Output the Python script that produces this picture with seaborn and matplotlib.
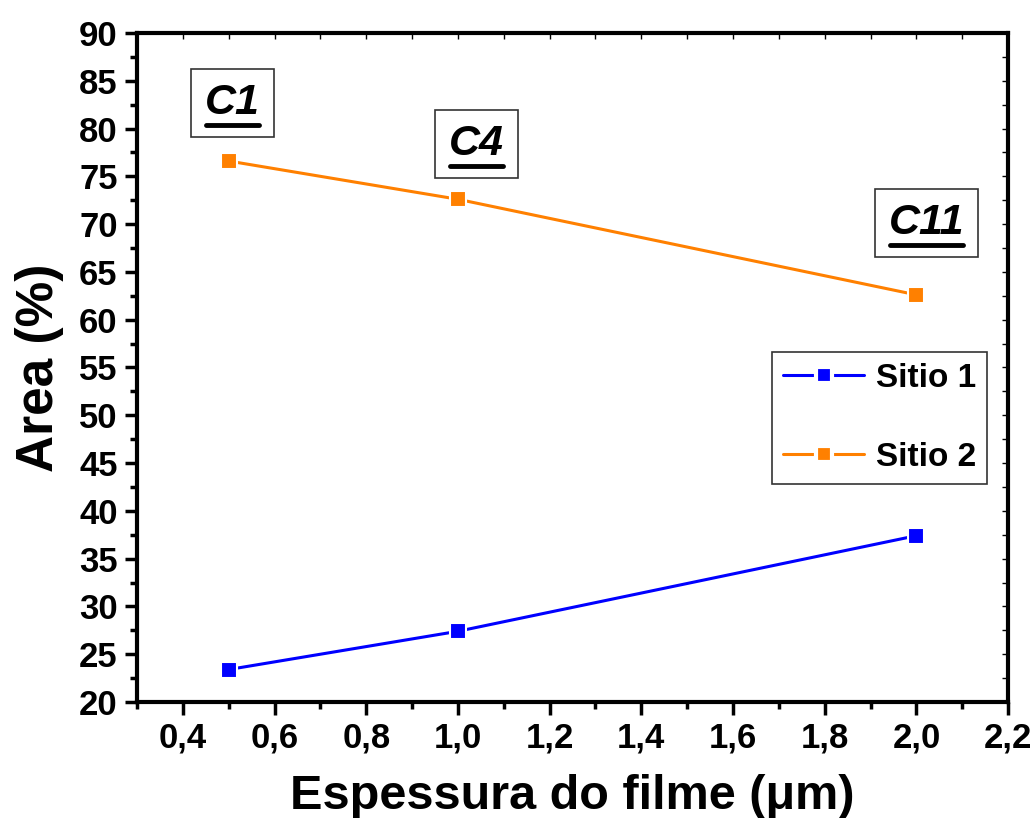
import pandas as pd
import seaborn as sns
import matplotlib.pyplot as plt
from matplotlib.ticker import MultipleLocator, FuncFormatter
from matplotlib.lines import Line2D

# dados
espessura = [0.5, 1.0, 2.0]
sitio1 = [23.4, 27.4, 37.4]
sitio2 = [76.6, 72.6, 62.6]
amostras = ['C1', 'C4', 'C11']
amostra_pos = [(0.508, 82.7), (1.04, 78.4), (2.022, 70.1)]

df = pd.DataFrame({
    'Espessura': espessura * 2,
    'Area': sitio1 + sitio2,
    'Serie': ['Sitio 1'] * 3 + ['Sitio 2'] * 3,
})

sns.set_theme(style="ticks")
plt.rcParams['font.family'] = ['Liberation Sans', 'DejaVu Sans']
plt.rcParams['font.weight'] = 'bold'
plt.rcParams['text.color'] = 'black'
plt.rcParams['axes.labelcolor'] = 'black'
plt.rcParams['xtick.color'] = 'black'
plt.rcParams['ytick.color'] = 'black'

fig = plt.figure(figsize=(10.35, 8.18), dpi=100)
ax = fig.add_axes([0.1324, 0.1418, 0.8416, 0.8179])

my_pal = {'Sitio 1': '#0000FF', 'Sitio 2': '#FF8000'}
sns.lineplot(data=df, x='Espessura', y='Area', hue='Serie', palette=my_pal,
             marker='s', markersize=11, markeredgecolor='white',
             markeredgewidth=1.5, linewidth=2.2, ax=ax, legend=False)

ax.set_xlim(0.3, 2.2)
ax.set_ylim(20, 90)
ax.xaxis.set_major_locator(MultipleLocator(0.2))
ax.xaxis.set_minor_locator(MultipleLocator(0.1))
ax.yaxis.set_major_locator(MultipleLocator(5))
ax.yaxis.set_minor_locator(MultipleLocator(2.5))
ax.xaxis.set_major_formatter(FuncFormatter(lambda v, p: f'{v:.1f}'.replace('.', ',')))
ax.yaxis.set_major_formatter(FuncFormatter(lambda v, p: f'{v:.0f}'))

for s in ax.spines.values():
    s.set_linewidth(3)
    s.set_color('black')
ax.tick_params(which='major', length=9, width=2.5, labelsize=25, direction='out', pad=5,
               colors='black')
ax.tick_params(which='minor', length=5, width=2.5, direction='out', colors='black')
for lab in ax.get_xticklabels() + ax.get_yticklabels():
    lab.set_fontweight('bold')

# ticks internos em cima e a direita
top = ax.secondary_xaxis('top')
top.xaxis.set_major_locator(MultipleLocator(0.2))
top.xaxis.set_minor_locator(MultipleLocator(0.1))
top.tick_params(which='both', direction='in', length=4, width=1, labeltop=False)
right = ax.secondary_yaxis('right')
right.yaxis.set_major_locator(MultipleLocator(5))
right.yaxis.set_minor_locator(MultipleLocator(2.5))
right.tick_params(which='both', direction='in', length=4, width=1, labelright=False)

ax.set_xlabel('Espessura do filme (\u03bcm)', fontsize=35, fontweight='bold', labelpad=14)
ax.set_ylabel('Area (%)', fontsize=37, fontweight='bold', labelpad=11)

handles = [Line2D([], [], color=my_pal[k], marker='s', markersize=11,
                  markeredgecolor='white', markeredgewidth=3, linewidth=2.2)
           for k in ['Sitio 1', 'Sitio 2']]
leg = ax.legend(handles, ['Sitio 1', 'Sitio 2'], loc='upper left',
                bbox_to_anchor=(0.729, 0.523), borderaxespad=0, fancybox=False,
                framealpha=1, edgecolor='#333333', handlelength=2.45,
                prop={'size': 24, 'weight': 'bold'}, labelspacing=1.45,
                borderpad=0.32, handletextpad=0.35)
leg.get_frame().set_linewidth(1.2)

texts = []
for nome, (px, py) in zip(amostras, amostra_pos):
    t = ax.text(px, py, nome, fontsize=31, fontweight='bold', fontstyle='italic',
                ha='center', va='center',
                bbox=dict(boxstyle='square,pad=0.32', fc='white', ec='#333333', lw=1.2))
    texts.append(t)

fig.canvas.draw()
r = fig.canvas.get_renderer()
for t in texts:
    bb = t.get_window_extent(r)
    y0 = bb.y0 - 2
    fig.add_artist(Line2D([bb.x0 + 1, bb.x1 - 1], [y0, y0], transform=None,
                          color='black', linewidth=3.5))

plt.savefig('out.png', dpi=100)
